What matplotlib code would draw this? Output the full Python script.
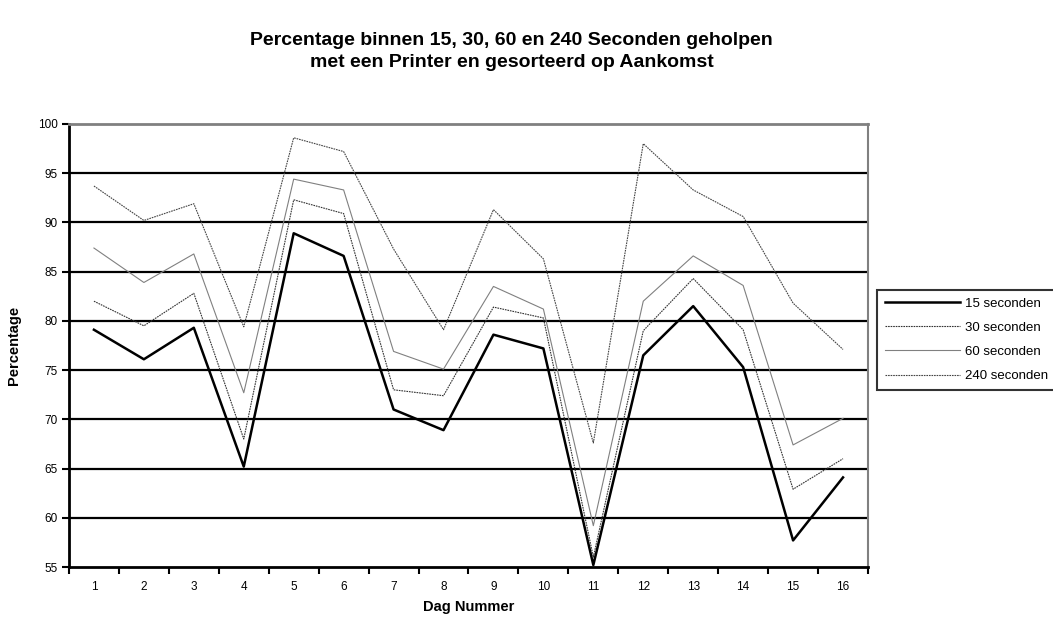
import numpy as np
import matplotlib.pyplot as plt

plt.rcParams['font.family'] = ['Liberation Sans', 'DejaVu Sans']

# Dagen en percentages per wachttijd
dagen = np.arange(1, 17)
sec15 = [79.1, 76.1, 79.3, 65.2, 88.9, 86.6, 71.0, 68.9, 78.6, 77.2, 55.2, 76.5, 81.5, 75.3, 57.7, 64.1]
sec30 = [82.0, 79.5, 82.8, 68.0, 92.3, 90.9, 73.0, 72.4, 81.4, 80.3, 56.0, 79.0, 84.3, 79.1, 62.9, 66.0]
sec60 = [87.4, 83.9, 86.8, 72.7, 94.4, 93.3, 76.9, 75.1, 83.5, 81.2, 59.2, 82.0, 86.6, 83.6, 67.4, 70.1]
sec240 = [93.7, 90.2, 91.9, 79.4, 98.6, 97.2, 87.3, 79.1, 91.3, 86.3, 67.6, 98.0, 93.3, 90.6, 81.8, 77.1]
yticks = [55, 60, 65, 70, 75, 80, 85, 90, 95, 100]

fig = plt.figure(figsize=(10.53, 6.19), dpi=100)
ax = fig.add_axes([0.0655, 0.084, 0.7588, 0.7157])

# horizontale rasterlijnen
for y in yticks[1:-1]:
    ax.axhline(y, color='black', lw=1.6, zorder=1)

ax.plot(dagen, sec15, color='black', lw=1.8, label='15 seconden', zorder=5)
ax.plot(dagen, sec30, color='#333333', lw=0.8, dashes=(1.5, 0.8), label='30 seconden', zorder=4)
ax.plot(dagen, sec60, color='#808080', lw=0.8, label='60 seconden', zorder=3)
ax.plot(dagen, sec240, color='#444444', lw=0.8, dashes=(1.5, 0.8), label='240 seconden', zorder=3)

ax.set_xlim(0.5, 16.5)
ax.set_ylim(55, 100)
ax.set_yticks(yticks)
ax.set_xticks(dagen)
ax.set_xticks(np.arange(0.5, 17, 1), minor=True)
ax.tick_params(axis='x', which='major', length=0, labelsize=8.5, pad=10)
ax.tick_params(axis='x', which='minor', length=5, width=1.5, direction='out')
ax.tick_params(axis='y', length=5, width=1.5, direction='out', labelsize=8.5, pad=3)

ax.spines['left'].set_linewidth(2)
ax.spines['bottom'].set_linewidth(2)
ax.spines['top'].set_color('#808080')
ax.spines['top'].set_linewidth(2)
ax.spines['right'].set_color('#808080')
ax.spines['right'].set_linewidth(1.5)

ax.set_xlabel('Dag Nummer', fontsize=10.5, fontweight='bold', labelpad=5)
ax.set_ylabel('Percentage', fontsize=10.5, fontweight='heavy', labelpad=12)

fig.text(0.486, 0.917, 'Percentage binnen 15, 30, 60 en 240 Seconden geholpen\nmet een Printer en gesorteerd op Aankomst',
         ha='center', va='center', fontsize=14, fontweight='bold', linespacing=1.4)

leg = fig.legend(loc='upper left', bbox_to_anchor=(0.833, 0.532), fontsize=9.5,
                 frameon=True, fancybox=False, handlelength=5.7, handletextpad=0.38,
                 labelspacing=0.9, borderpad=0.6, borderaxespad=0)
leg.get_frame().set_edgecolor('black')
leg.get_frame().set_linewidth(1.5)

fig.savefig('out.png', dpi=100)
